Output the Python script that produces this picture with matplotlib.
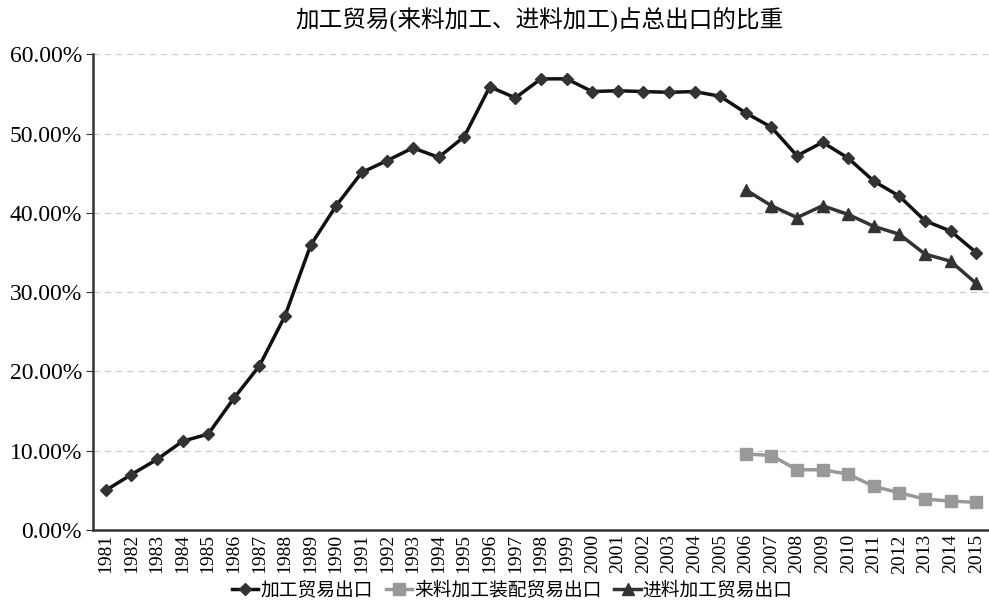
import matplotlib.pyplot as plt
from matplotlib.ticker import PercentFormatter

plt.rcParams['font.family'] = ['Liberation Serif', 'Noto Sans CJK SC']

years = list(range(1981, 2016))
jiagong = [5.0, 7.0, 8.9, 11.2, 12.1, 16.6, 20.7, 27.0, 35.9, 40.9,
           45.1, 46.6, 48.2, 47.0, 49.6, 55.9, 54.5, 56.9, 56.9, 55.3,
           55.4, 55.3, 55.2, 55.3, 54.7, 52.6, 50.8, 47.2, 48.9, 46.9,
           44.0, 42.1, 39.0, 37.7, 35.0]
years_b = list(range(2006, 2016))
lailiao = [9.6, 9.4, 7.6, 7.6, 7.05, 5.5, 4.7, 3.9, 3.65, 3.5]
jinliao = [42.9, 40.9, 39.4, 40.9, 39.8, 38.3, 37.3, 34.8, 33.9, 31.1]

fig = plt.figure(figsize=(9.89, 6.03), dpi=100)
ax = fig.add_axes([0.094, 0.121, 0.906, 0.789])

ax.plot(years, jiagong, color='#111111', lw=2.5, marker='D', ms=6,
        mfc='#333333', mec='#333333', label='加工贸易出口')
ax.plot(years_b, lailiao, color='#999999', lw=2.5, marker='s', ms=8,
        mfc='#999999', mec='#999999', label='来料加工装配贸易出口')
ax.plot(years_b, jinliao, color='#333333', lw=2.5, marker='^', ms=9,
        mfc='#333333', mec='#333333', label='进料加工贸易出口')

ax.set_xlim(1980.5, 2015.5)
ax.set_ylim(0, 60)
ax.set_yticks(range(0, 61, 10))
ax.yaxis.set_major_formatter(PercentFormatter(decimals=2))
ax.set_xticks(years)
ax.set_xticklabels([str(y) for y in years], rotation=90)
ax.tick_params(axis='y', labelsize=17, length=5, color='#333333', pad=3)
ax.tick_params(axis='x', labelsize=14, length=0, pad=3)
ax.grid(axis='y', ls=(0, (5, 4)), color='#cccccc', lw=0.9)
ax.set_axisbelow(True)
for s in ['top', 'right']:
    ax.spines[s].set_visible(False)
ax.spines['left'].set_color('#333333')
ax.spines['bottom'].set_color('#333333')
ax.spines['left'].set_linewidth(1.8)
ax.spines['bottom'].set_linewidth(1.8)

fig.text(0.545, 0.968, '加工贸易(来料加工、进料加工)占总出口的比重',
         ha='center', va='center', fontsize=17)

fig.legend(loc='center', bbox_to_anchor=(0.518, 0.02), ncol=3, frameon=False,
           fontsize=13.5, handlelength=1.4, handletextpad=0.1, columnspacing=0.7,
           borderpad=0)

fig.savefig('out.png', dpi=100)
